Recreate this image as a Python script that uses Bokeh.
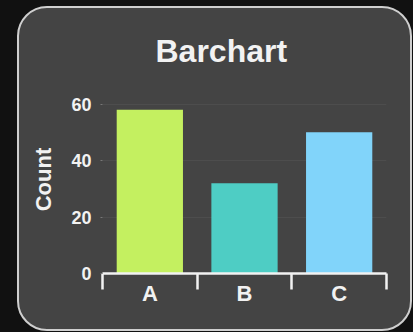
from bokeh.plotting import figure
from bokeh.layouts import column
from bokeh.models import Range1d, FixedTicker
from bokeh.embed import file_html
from bokeh.resources import INLINE

# Data
categories = ["A", "B", "C"]
counts = [58, 32, 50]
bar_colors = ["#c4f060", "#4ecdc4", "#81d4fa"]
y_ticks = [0, 20, 40, 60]

FONT = "Liberation Sans"
TEXT = "#f2f2f2"
CARD = "#444444"

# bars sit in the middle of unit-wide bands
x_centers = [i + 0.5 for i in range(len(categories))]
band_edges = list(range(len(categories) + 1))

p = figure(
    width=395, height=325,
    x_range=Range1d(0, len(categories)),
    y_range=Range1d(0, 66.6),
    output_backend="svg", toolbar_location=None,
    title="Barchart",
    min_border_left=83, min_border_right=28,
    min_border_top=77, min_border_bottom=60,
)
# the card colour comes from the host element, so the canvas stays seamless
p.background_fill_alpha = 0
p.border_fill_alpha = 0
p.outline_line_color = None

p.vbar(x=x_centers, top=counts, width=0.7, bottom=0,
       fill_color=bar_colors, line_color=None)

# title
p.title.text_font = FONT
p.title.text_font_size = "32px"
p.title.text_font_style = "bold"
p.title.text_color = TEXT
p.title.align = "left"
p.title.offset = 53
p.title.standoff = 34

# y axis
p.yaxis.ticker = FixedTicker(ticks=y_ticks)
p.yaxis.axis_line_color = None
p.yaxis.major_tick_out = 2
p.yaxis.major_tick_in = 0
p.yaxis.major_tick_line_color = "#777777"
p.yaxis.minor_tick_line_color = None
p.yaxis.major_label_text_font = FONT
p.yaxis.major_label_text_font_size = "18px"
p.yaxis.major_label_text_font_style = "bold"
p.yaxis.major_label_text_color = TEXT
p.yaxis.major_label_standoff = 9
p.yaxis.axis_label = "Count"
p.yaxis.axis_label_text_font = FONT
p.yaxis.axis_label_text_font_size = "22px"
p.yaxis.axis_label_text_font_style = "bold"
p.yaxis.axis_label_text_color = TEXT
p.yaxis.axis_label_standoff = 12

# x axis: bracket ticks at band edges, labels at band centres
p.xaxis.ticker = FixedTicker(ticks=x_centers, minor_ticks=band_edges)
p.xaxis.major_label_overrides = {c: lab for c, lab in zip(x_centers, categories)}
p.xaxis.axis_line_color = TEXT
p.xaxis.axis_line_width = 2.5
p.xaxis.major_tick_out = 0
p.xaxis.major_tick_in = 0
p.xaxis.major_tick_line_color = None
p.xaxis.minor_tick_out = 16
p.xaxis.minor_tick_in = 0
p.xaxis.minor_tick_line_color = TEXT
p.xaxis.minor_tick_line_width = 2.5
p.xaxis.major_label_text_font = FONT
p.xaxis.major_label_text_font_size = "22px"
p.xaxis.major_label_text_font_style = "bold"
p.xaxis.major_label_text_color = TEXT
p.xaxis.major_label_standoff = -9

p.xgrid.grid_line_color = None
p.ygrid.ticker = FixedTicker(ticks=y_ticks)
p.ygrid.grid_line_color = "#4d4d4d"
p.ygrid.grid_line_width = 1

# rounded card with a light rim
p.styles = {
    "background-color": CARD,
    "border": "2px solid #cfcfcf",
    "border-radius": "30px",
    "overflow": "hidden",
}

page = column(p, styles={
    "background-color": "#111111",
    "padding": "6px 0px 0px 17px",
    "width": "413px",
    "height": "332px",
    "box-sizing": "border-box",
    "overflow": "hidden",
})

open("out.html", "w").write(file_html(page, INLINE))
